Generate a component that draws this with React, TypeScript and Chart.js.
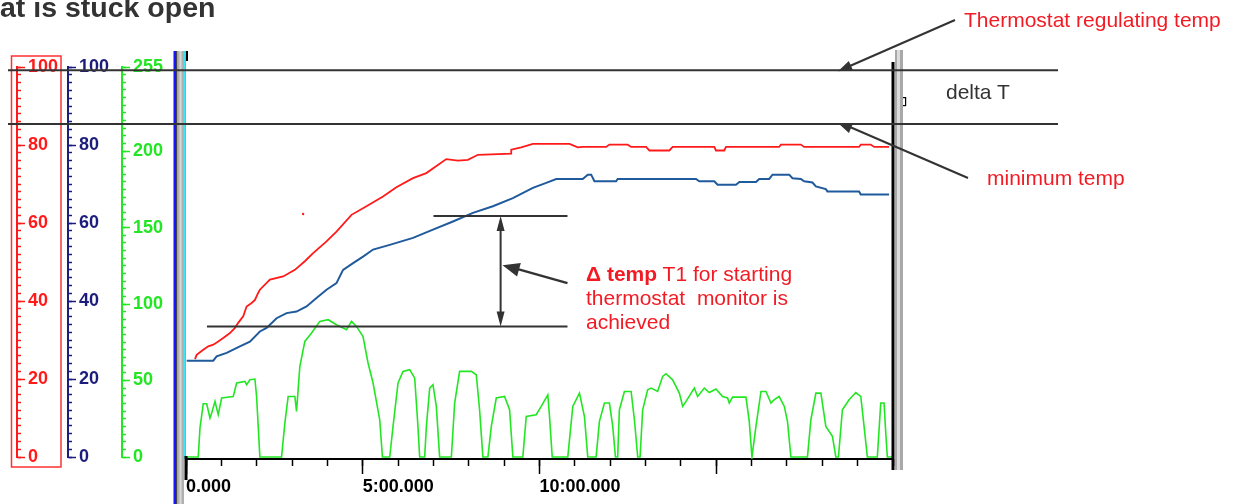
import React, { useEffect, useRef } from 'react';
import { Chart, registerables } from 'chart.js';

Chart.register(...registerables);

// ---------- data (time in seconds, temperatures in %, speed in 0-255 units) ----------
const redTime = [15.3, 18.1, 29.3, 37.8, 46.3, 54.7, 63.2, 74.6, 83.1, 88.6, 97.1, 102.9, 111.4, 117, 122.5, 125.4, 142.4, 164.9, 184.8, 201.7, 215.8, 238.5, 255.4, 280.9, 306.3, 334.4, 357.1, 385.3, 407.9, 441.8, 461.5, 478.5, 495.5, 552, 552, 569, 588.7, 650.9, 665, 673.4, 713.1, 718.7, 749.7, 755.5, 780.9, 786.5, 820.4, 826, 896.7, 899.5, 913.6, 916.5, 1006.8, 1009.7, 1043.6, 1049.2, 1142.4, 1145.3, 1162.3, 1167.9, 1193.3];
const redTemp = [25.1, 26.2, 27.5, 28.4, 28.8, 29.6, 30.5, 31.8, 33.1, 34.4, 36.1, 38.6, 39.5, 40.3, 42.1, 42.9, 45.5, 46.3, 48.0, 50.2, 52.3, 55.3, 57.8, 62.1, 64.3, 66.8, 69.2, 71.5, 72.8, 76.4, 76.0, 76.2, 77.5, 77.8, 78.8, 79.4, 80.3, 80.3, 79.4, 79.5, 79.5, 80.1, 80.1, 79.5, 79.5, 78.6, 78.6, 79.5, 79.5, 78.6, 78.6, 79.5, 79.5, 80.1, 80.1, 79.5, 79.5, 80.1, 80.1, 79.5, 79.5];

const redSpikeTime = [198.8];
const redSpikeTemp = [62.3];

const blueTime = [1.2, 46.3, 52, 69, 91.5, 108.5, 125.4, 136.8, 153.7, 170.7, 187.6, 204.6, 221.5, 238.5, 255.4, 266.6, 283.6, 300.5, 317.5, 345.8, 385.3, 419.2, 453.1, 487, 520.9, 554.8, 588.7, 611.4, 628.4, 673.4, 681.9, 687.7, 693.2, 730, 732.7, 865.6, 871.2, 896.7, 902.3, 933.5, 939.2, 967.4, 973, 989.9, 995.5, 1023.8, 1029.4, 1043.6, 1049.2, 1063.3, 1069.1, 1086, 1088.7, 1142.4, 1145.3, 1193.3];
const blueTemp = [24.7, 24.7, 25.8, 26.7, 28.4, 29.6, 32.2, 33.1, 35.6, 36.9, 37.3, 38.6, 40.8, 42.9, 44.6, 48.0, 49.7, 51.4, 53.2, 54.4, 56.2, 58.3, 60.4, 62.6, 64.3, 66.4, 69.0, 70.3, 71.3, 71.3, 72.4, 72.4, 70.7, 70.7, 71.3, 71.3, 70.7, 70.7, 69.8, 69.8, 70.5, 70.5, 71.3, 71.3, 72.4, 72.4, 71.5, 71.3, 70.7, 70.4, 69.4, 68.7, 68.1, 68.1, 67.3, 67.3];

const speedTime = [1.2, 20.8, 23.7, 29.3, 35.1, 40.7, 43.6, 49.2, 54.7, 60.5, 80.2, 85.9, 100, 102.9, 108.5, 117, 119.8, 125.4, 162.2, 167.8, 173.4, 184.8, 187.6, 193.2, 201.7, 213.1, 227.1, 241.2, 255.4, 272.4, 280.9, 289.3, 300.5, 309, 317.5, 328.8, 333.4, 345.8, 351.4, 359.9, 368.3, 379.7, 388.2, 393.7, 396.6, 405.1, 408, 413.6, 419.2, 424.9, 430.5, 450.4, 456, 464.4, 484.3, 492.7, 498.3, 503.9, 512.4, 518.2, 526.6, 540.7, 549.2, 554.8, 571.7, 577.5, 594.4, 602.9, 614.1, 617, 621.6, 648, 656.5, 667.8, 676.3, 681.9, 696.1, 701.7, 710.2, 718.7, 724.3, 728.9, 732.7, 735.6, 744.1, 755.5, 761.1, 766.7, 770.7, 775.1, 783.6, 789.4, 800.5, 809, 814.8, 826, 837.3, 843, 848.7, 862.8, 868.4, 879.7, 888.2, 899.5, 910.7, 919.2, 922.1, 927.7, 950.4, 956, 960.6, 967.4, 975.9, 984.4, 992.9, 998.5, 1006.8, 1015.5, 1020.9, 1026.7, 1054.8, 1060.6, 1069.1, 1077.6, 1086, 1097.2, 1103, 1107.4, 1114.1, 1125.5, 1136.8, 1145.3, 1150.9, 1156.5, 1173.4, 1179.2, 1184.8, 1187.7, 1190.4, 1198.4];
const speedVal = [0, 0, 19, 34.8, 34.8, 25.5, 28.8, 36.4, 27.7, 38.6, 39.6, 48.4, 49.4, 47.3, 50.5, 51, 39.6, 0, 0, 22.2, 39.6, 39.6, 29.8, 59.2, 75.6, 81.1, 88.7, 89.8, 86.5, 83.2, 88.7, 85.4, 78.8, 61.5, 48.4, 24.4, 0, 0, 20, 48.4, 56, 57.1, 51.6, 20, 0, 0, 20, 45.1, 47.3, 33.1, 0, 0, 35.3, 56, 56, 53.8, 30.9, 0, 0, 20, 38.6, 39.6, 30.9, 0, 0, 26.5, 27.7, 33.1, 40.7, 26.5, 0, 0, 33.1, 41.8, 26.5, 0, 0, 23.3, 35.3, 35.3, 20, 0, 0, 30.9, 42.9, 42.9, 24.4, 0, 0, 30.9, 44, 45.1, 42.9, 52.7, 54.5, 50.5, 41.8, 33.1, 36.4, 45.1, 39.6, 45.1, 42.2, 44.5, 39.6, 38.6, 35.3, 39.2, 39.2, 23.3, 0, 20, 42.9, 42.9, 35.3, 37.5, 39.6, 33.1, 23.3, 0, 0, 24.4, 41.8, 41.8, 20, 13.5, 0, 0, 30.9, 37.5, 42.2, 39.6, 20, 0, 0, 35.3, 35.3, 15.7, 0, 0];

// ---------- ticks ----------
const X_MAJOR_TICKS = [0, 300, 600, 900];
const X_TICK_LABELS = ['0.000', '5:00.000', '10:00.000', ''];
const X_MINOR_STEP = 60;
const TEMP_MAJOR_TICKS = [0, 20, 40, 60, 80, 100];
const TEMP_MINOR_STEP = 2;
const SPEED_MAJOR_TICKS = [0, 50, 100, 150, 200, 255];
const SPEED_MINOR_STEP = 5;

// ---------- annotation levels (temperature %) ----------
const REGULATING_TEMP = 99.2;
const MINIMUM_TEMP = 85.4;
const T1_HIGH = 61.8;
const T1_LOW = 33.5;
const T1_HIGH_FROM = 420;
const T1_LOW_FROM = 35.6;
const T1_TO = 647.5;
const T1_ARROW_TIME = 534;
const POINTER_TAIL = { t: 647.5, v: 44.6 };
const POINTER_TIP = { t: 537.3, v: 49.2 };

const FONT = "'Liberation Sans', Arial, Helvetica, sans-serif";
const RED = '#ff1a1a';
const NAVY = '#1c1c7c';
const GREEN = '#22e622';
const TEXT_RED = '#f21b24';

const range = (max: number, step: number) => {
  const out: number[] = [];
  for (let v = 0; v <= max + 1e-9; v += step) out.push(v);
  return out;
};

function leftAxis(color: string, min: number, max: number, ticks: number[], tickLen: number, width: number, weight: number, labels: boolean) {
  return {
    type: 'linear',
    axis: 'y',
    position: 'right',
    min,
    max,
    weight,
    afterBuildTicks: (s: any) => { s.ticks = ticks.map((v) => ({ value: v })); },
    afterFit: (s: any) => { s.width = width; },
    border: { display: labels, color, width: 2 },
    grid: { display: true, drawOnChartArea: false, drawTicks: true, tickLength: tickLen, tickColor: color, tickWidth: 1.5 },
    ticks: { display: labels, color, padding: 3, autoSkip: false, font: { family: FONT, size: 18, weight: 'bold' } },
  };
}

const redBoxPlugin = {
  id: 'redBox',
  afterDraw(chart: any) {
    const ctx = chart.ctx;
    ctx.save();
    ctx.strokeStyle = '#ff3030';
    ctx.lineWidth = 1.5;
    ctx.strokeRect(11.5, 56, 49.5, 411);
    ctx.restore();
  },
};

function arrowHead(ctx: CanvasRenderingContext2D, fx: number, fy: number, tx: number, ty: number, len: number, half: number) {
  const a = Math.atan2(ty - fy, tx - fx);
  const bx = tx - len * Math.cos(a);
  const by = ty - len * Math.sin(a);
  ctx.beginPath();
  ctx.moveTo(tx, ty);
  ctx.lineTo(bx + half * Math.sin(a), by - half * Math.cos(a));
  ctx.lineTo(bx - half * Math.sin(a), by + half * Math.cos(a));
  ctx.closePath();
  ctx.fill();
}

function line(ctx: CanvasRenderingContext2D, x1: number, y1: number, x2: number, y2: number) {
  ctx.beginPath();
  ctx.moveTo(x1, y1);
  ctx.lineTo(x2, y2);
  ctx.stroke();
}

const overlayPlugin = {
  id: 'overlay',
  afterDraw(chart: any) {
    const ctx: CanvasRenderingContext2D = chart.ctx;
    const a = chart.chartArea;
    const xs = chart.scales.x;
    const ys = chart.scales.yT;
    const H = chart.height;
    ctx.save();
    // left frame bar
    ctx.fillStyle = '#1414ff';
    ctx.fillRect(a.left - 12.5, a.top - 1, 2.5, H - a.top + 1);
    ctx.fillStyle = '#404040';
    ctx.fillRect(a.left - 10, a.top - 1, 1.5, H - a.top + 1);
    ctx.fillStyle = '#b0b0b0';
    ctx.fillRect(a.left - 8.5, a.top - 1, 6.5, H - a.top + 1);
    ctx.fillStyle = '#d8d8d8';
    ctx.fillRect(a.left - 6.5, a.top - 1, 2, H - a.top + 1);
    ctx.fillStyle = '#10e0f0';
    ctx.fillRect(a.left - 1.8, a.top - 1, 1.8, a.bottom - a.top + 1);
    ctx.fillStyle = '#000';
    ctx.fillRect(a.left - 1.5, a.bottom - 3, 3, 24);
    ctx.fillRect(a.left, a.top - 1, 2, 10);
    // right frame bar
    ctx.fillStyle = '#000';
    ctx.fillRect(a.right - 1.5, a.top + 10, 3, 408);
    ctx.fillStyle = '#a8a8a8';
    ctx.fillRect(a.right + 2, a.top - 2, 8, 420);
    ctx.fillStyle = '#dcdcdc';
    ctx.fillRect(a.right + 4, a.top - 2, 3, 420);
    ctx.fillStyle = '#000';
    ctx.fillRect(a.right + 10, a.top + 45, 3, 1.2);
    ctx.fillRect(a.right + 10, a.top + 53, 3, 1.2);
    ctx.fillRect(a.right + 12, a.top + 45, 1.2, 9);

    // annotation lines
    ctx.strokeStyle = '#333';
    ctx.fillStyle = '#333';
    ctx.lineWidth = 2;
    const yReg = ys.getPixelForValue(REGULATING_TEMP);
    const yMin = ys.getPixelForValue(MINIMUM_TEMP);
    line(ctx, 8, yReg, 1058, yReg);
    line(ctx, 8, yMin, 1058, yMin);
    // thermostat arrows
    line(ctx, 955, 20, 843, 69);
    arrowHead(ctx, 955, 20, 838, yReg + 1, 14, 5);
    line(ctx, 968, 178, 843, 124);
    arrowHead(ctx, 968, 178, 838, yMin - 1, 14, 5);

    // delta T1 construction
    const yHi = ys.getPixelForValue(T1_HIGH);
    const yLo = ys.getPixelForValue(T1_LOW);
    const xEnd = xs.getPixelForValue(T1_TO);
    line(ctx, xs.getPixelForValue(T1_HIGH_FROM), yHi, xEnd, yHi);
    line(ctx, xs.getPixelForValue(T1_LOW_FROM), yLo, xEnd, yLo);
    const xArr = xs.getPixelForValue(T1_ARROW_TIME);
    line(ctx, xArr, yHi + 8, xArr, yLo - 8);
    arrowHead(ctx, xArr, yLo, xArr, yHi, 15, 4);
    arrowHead(ctx, xArr, yHi, xArr, yLo, 15, 4);
    const pTx = xs.getPixelForValue(POINTER_TAIL.t);
    const pTy = ys.getPixelForValue(POINTER_TAIL.v);
    const pHx = xs.getPixelForValue(POINTER_TIP.t);
    const pHy = ys.getPixelForValue(POINTER_TIP.v);
    ctx.lineWidth = 2.5;
    line(ctx, pTx, pTy, pHx + 10, pHy + 2.5);
    arrowHead(ctx, pTx, pTy, pHx, pHy, 17, 7);
    ctx.restore();
  },
};

const pts = (xs: number[], ys: number[]) => xs.map((x, i) => ({ x, y: ys[i] }));

export default function App() {
  const leftRef = useRef<HTMLCanvasElement>(null);
  const mainRef = useRef<HTMLCanvasElement>(null);

  useEffect(() => {
    const left = new Chart(leftRef.current as HTMLCanvasElement, {
      type: 'line',
      data: { datasets: [] },
      options: {
        animation: false,
        responsive: false,
        events: [],
        layout: { padding: { left: 12, right: 4, top: 67, bottom: 47 } },
        plugins: { legend: { display: false }, tooltip: { enabled: false } },
        scales: {
          x: { type: 'linear', display: false, min: 0, max: 1 },
          y: { type: 'linear', display: false, min: 0, max: 100 },
          tempAMinor: leftAxis(RED, 0, 100, range(100, TEMP_MINOR_STEP), 4, 0, 0, false),
          tempA: leftAxis(RED, 0, 100, TEMP_MAJOR_TICKS, 8, 51, 1, true),
          tempBMinor: leftAxis(NAVY, 0, 100, range(100, TEMP_MINOR_STEP), 4, 0, 2, false),
          tempB: leftAxis(NAVY, 0, 100, TEMP_MAJOR_TICKS, 8, 54, 3, true),
          speedMinor: leftAxis(GREEN, 0, 255, range(255, SPEED_MINOR_STEP), 4, 0, 4, false),
          speed: leftAxis(GREEN, 0, 255, SPEED_MAJOR_TICKS, 8, 60, 5, true),
        } as any,
      },
      plugins: [redBoxPlugin],
    } as any);

    const main = new Chart(mainRef.current as HTMLCanvasElement, {
      type: 'line',
      data: {
        datasets: [
          { label: 'Speed', data: pts(speedTime, speedVal), yAxisID: 'yG', xAxisID: 'x', borderColor: GREEN, borderWidth: 1.6, pointRadius: 0, tension: 0, fill: false },
          { label: 'T2', data: pts(blueTime, blueTemp), yAxisID: 'yT', xAxisID: 'x', borderColor: '#1f5a9c', borderWidth: 2, pointRadius: 0, tension: 0, fill: false },
          { label: 'T1', data: pts(redTime, redTemp), yAxisID: 'yT', xAxisID: 'x', borderColor: RED, borderWidth: 1.8, pointRadius: 0, tension: 0, fill: false },
          { label: 'T1 spike', data: pts(redSpikeTime, redSpikeTemp), yAxisID: 'yT', xAxisID: 'x', showLine: false, pointRadius: 1.2, pointBorderWidth: 0, pointBackgroundColor: RED, borderColor: RED },
        ],
      },
      options: {
        animation: false,
        responsive: false,
        events: [],
        layout: { padding: { left: 186, right: 344, top: 52, bottom: 5 } },
        plugins: { legend: { display: false }, tooltip: { enabled: false } },
        scales: {
          xMinor: {
            type: 'linear', axis: 'x', position: 'bottom', min: 0, max: 1200, weight: 0,
            afterBuildTicks: (s: any) => { s.ticks = range(1200, X_MINOR_STEP).map((v) => ({ value: v })); },
            afterFit: (s: any) => { s.height = 0; },
            border: { display: false },
            grid: { drawOnChartArea: false, tickLength: 7, tickColor: '#000', tickWidth: 1.5 },
            ticks: { display: false },
          },
          x: {
            type: 'linear', position: 'bottom', min: 0, max: 1200, weight: 1,
            afterBuildTicks: (s: any) => { s.ticks = X_MAJOR_TICKS.map((v) => ({ value: v })); },
            afterFit: (s: any) => { s.height = 40; },
            border: { display: true, color: '#000', width: 2 },
            grid: { drawOnChartArea: false, tickLength: 15, tickColor: '#000', tickWidth: 1.5 },
            ticks: {
              align: 'start', padding: 2, color: '#000', autoSkip: false, maxRotation: 0, minRotation: 0,
              font: { family: FONT, size: 18, weight: 'bold' },
              callback: (_v: any, i: number) => X_TICK_LABELS[i],
            },
          },
          yT: { type: 'linear', axis: 'y', display: false, min: -0.5, max: 103.85 },
          yG: { type: 'linear', axis: 'y', display: false, min: -1.275, max: 264.82 },
        } as any,
      },
      plugins: [overlayPlugin],
    } as any);

    return () => { left.destroy(); main.destroy(); };
  }, []);

  const base: React.CSSProperties = { position: 'absolute', fontFamily: FONT, whiteSpace: 'nowrap', margin: 0 };

  return (
    <div style={{ position: 'absolute', left: 0, top: 0, width: 1237, height: 504, overflow: 'hidden', background: '#fff' }}>
      <canvas ref={leftRef} width={186} height={504} style={{ position: 'absolute', left: 0, top: 0 }} />
      <canvas ref={mainRef} width={1237} height={504} style={{ position: 'absolute', left: 0, top: 0 }} />
      <div style={{ ...base, left: 0, top: -7, fontSize: 28.5, lineHeight: '28.5px', fontWeight: 'bold', color: '#333' }}>at is stuck open</div>
      <div style={{ ...base, left: 964, top: 9, fontSize: 21, lineHeight: '21px', color: TEXT_RED }}>Thermostat regulating temp</div>
      <div style={{ ...base, left: 946, top: 80.5, fontSize: 21, lineHeight: '21px', color: '#333' }}>delta T</div>
      <div style={{ ...base, left: 987, top: 166.5, fontSize: 21, lineHeight: '21px', color: TEXT_RED }}>minimum temp</div>
      <div style={{ ...base, left: 586, top: 262.4, fontSize: 21, lineHeight: '24px', color: TEXT_RED }}>
        <b>Δ temp</b> T1 for starting<br />thermostat&nbsp; monitor is<br />achieved
      </div>
    </div>
  );
}
